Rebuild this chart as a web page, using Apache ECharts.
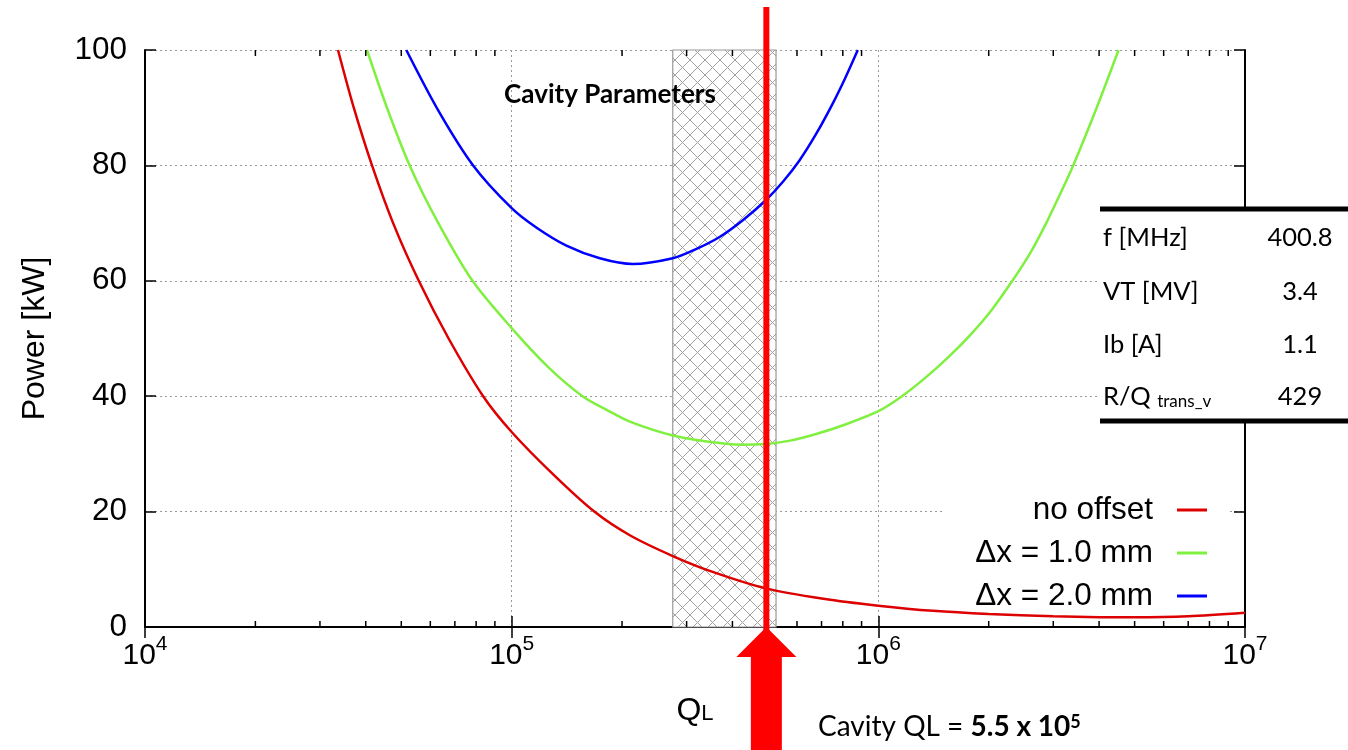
<!DOCTYPE html>
<html><head><meta charset="utf-8">
<script src="https://cdn.jsdelivr.net/npm/echarts@6/dist/echarts.min.js"></script>
<style>html,body{margin:0;padding:0;background:#fff}#c{width:1348px;height:750px}</style>
</head><body><div id="c"></div>
<script>
// ---- data ----
const seriesNames = ['no offset', 'Δx = 1.0 mm', 'Δx = 2.0 mm'];
const seriesColors = ['#dd0000', '#80f040', '#0000ff'];
const yTicks = { min: 0, max: 100, interval: 20 };
const xRange = { min: 1e4, max: 1e7 };
// [QL, Power kW]
const noOffset = [
  [3.36e4, 100], [3.71e4, 90], [4.16e4, 80], [4.75e4, 70], [5.58e4, 60], [6.73e4, 50],
  [8.36e4, 40], [1.0e5, 33.8], [1.30e5, 26.4], [1.68e5, 20], [2.10e5, 15.9], [2.75e5, 12.3],
  [3.55e5, 9.5], [4.93e5, 6.7], [7.08e5, 4.9], [1.0e6, 3.7], [1.41e6, 2.8], [2.0e6, 2.25],
  [3.0e6, 1.85], [4.0e6, 1.7], [5.0e6, 1.68], [7.0e6, 1.85], [1.0e7, 2.45]
];
const offset1mm = [
  [4.03e4, 100], [4.57e4, 90], [5.27e4, 80], [6.31e4, 70], [7.82e4, 60], [1.0e5, 51.8],
  [1.26e5, 45], [1.56e5, 40], [1.82e5, 37.6], [2.10e5, 35.6], [2.75e5, 33.2], [3.55e5, 32.0],
  [4.22e5, 31.6], [4.90e5, 31.7], [5.75e5, 32.3], [6.73e5, 33.4], [8.13e5, 35.1], [1.0e6, 37.4],
  [1.16e6, 40], [1.35e6, 43.3], [1.56e6, 46.9], [1.78e6, 50.6], [2.04e6, 55], [2.32e6, 60],
  [2.60e6, 64.9], [2.87e6, 70], [3.13e6, 75], [3.40e6, 80], [3.94e6, 90], [4.52e6, 100]
];
const offset2mm = [
  [5.16e4, 100], [6.31e4, 89.5], [7.85e4, 80], [1.0e5, 72.6], [1.17e5, 69.2], [1.41e5, 66.1],
  [1.74e5, 63.9], [2.14e5, 62.9], [2.75e5, 63.9], [3.16e5, 65.4], [3.69e5, 67.6], [4.27e5, 70.5],
  [4.94e5, 74], [5.50e5, 77.2], [6.10e5, 80.9], [6.76e5, 85.4], [7.52e5, 90.8], [8.13e5, 95.2],
  [8.79e5, 100]
];
const hatchBand = [2.75e5, 5.26e5];
const cavityQL = 4.95e5;
const tableLabels = ['f [MHz]', 'VT [MV]', 'Ib [A]', 'R/Q'];
const tableValues = ['400.8', '3.4', '1.1', '429'];

// ---- chart ----
const AX = 'Liberation Sans';
const chart = echarts.init(document.getElementById('c'), null, { renderer: 'canvas' });

function hatchPattern() {
  const c = document.createElement('canvas');
  c.width = 15; c.height = 15;
  const g = c.getContext('2d');
  g.fillStyle = '#fff'; g.fillRect(0, 0, 15, 15);
  g.strokeStyle = '#a0a0a0'; g.lineWidth = 1;
  g.beginPath();
  g.moveTo(0, 0); g.lineTo(15, 15);
  g.moveTo(15, 0); g.lineTo(0, 15);
  g.stroke();
  return c;
}

const dotted = { type: [2, 3], color: '#999', width: 1 };
const axisLineStyle = { lineStyle: { color: '#000', width: 2 } };

const xBase = {
  type: 'log', logBase: 10, min: xRange.min, max: xRange.max, splitNumber: 3,
  axisLine: axisLineStyle,
  axisTick: { inside: true, length: 11, lineStyle: { color: '#000', width: 1.5 } }
};
const yBase = {
  type: 'value', min: yTicks.min, max: yTicks.max, interval: yTicks.interval,
  axisLine: Object.assign({ show: true }, axisLineStyle),
  axisTick: { show: true, inside: true, length: 11, lineStyle: { color: '#000', width: 1.5 } }
};

const lineSeries = [noOffset, offset1mm, offset2mm].map((d, i) => ({
  name: seriesNames[i], type: 'line', data: d, showSymbol: false, smooth: 0.3, clip: true,
  lineStyle: { color: seriesColors[i], width: 2.5 }, itemStyle: { color: seriesColors[i] },
  z: 3
}));
lineSeries[0].markArea = {
  silent: true, z: 1,
  itemStyle: { color: { image: hatchPattern(), repeat: 'repeat' }, borderColor: '#999', borderWidth: 1.2 },
  data: [[{ xAxis: hatchBand[0] }, { xAxis: hatchBand[1] }]]
};

chart.setOption({
  animation: false,
  backgroundColor: '#fff',
  grid: { left: 145, right: 103, top: 50, bottom: 123 },
  xAxis: [
    Object.assign({}, xBase, {
      position: 'bottom',
      axisLabel: {
        margin: 14,
        formatter: v => '{b|10}{s|' + Math.round(Math.log10(v)) + '}',
        rich: {
          b: { fontSize: 30, fontFamily: AX, color: '#000', lineHeight: 30, verticalAlign: 'bottom' },
          s: { fontSize: 21, fontFamily: AX, color: '#000', lineHeight: 20, padding: [0, 0, 16, 0], verticalAlign: 'bottom' }
        }
      },
      splitLine: { show: true, lineStyle: dotted },
      name: '{q|Q}{l|L}', nameLocation: 'middle', nameGap: 68,
      nameTextStyle: {
        rich: {
          q: { fontSize: 32, fontFamily: AX, color: '#000', lineHeight: 30, padding: [0, 0, 8, 0], verticalAlign: 'top' },
          l: { fontSize: 22, fontFamily: AX, color: '#000', lineHeight: 20, verticalAlign: 'bottom' }
        }
      }
    }),
    Object.assign({}, xBase, { position: 'top', axisLabel: { show: false }, splitLine: { show: false } })
  ],
  yAxis: [
    Object.assign({}, yBase, {
      position: 'left',
      axisLabel: { fontSize: 31.5, fontFamily: AX, color: '#000', margin: 18 },
      splitLine: { show: true, lineStyle: dotted },
      name: 'Power [kW]', nameLocation: 'middle', nameGap: 94,
      nameTextStyle: { fontSize: 32, fontFamily: AX, color: '#000' }
    }),
    Object.assign({}, yBase, { position: 'right', axisLabel: { show: false }, splitLine: { show: false } })
  ],
  legend: {
    data: seriesNames, orient: 'vertical', align: 'right', right: 136, top: 489,
    icon: 'rect', itemWidth: 30, itemHeight: 3, itemGap: 11,
    textStyle: { fontSize: 31.5, fontFamily: AX, color: '#000', lineHeight: 31.5, padding: [0, 19, 0, 0] },
    z: 6
  },
  series: lineSeries
});

// ---- decorations positioned through the axis scales ----
const px = q => chart.convertToPixel({ xAxisIndex: 0 }, q);
const plotTop = 50, plotBottom = 627;
const g = [];
// minor log ticks (2..9 per decade) on bottom and top axes
for (let d = 4; d < 7; d++) {
  for (let k = 2; k <= 9; k++) {
    const x = px(k * Math.pow(10, d));
    g.push({ type: 'line', z: 5, silent: true, shape: { x1: x, y1: plotBottom, x2: x, y2: plotBottom - 6 }, style: { stroke: '#000', lineWidth: 1.5 } });
    g.push({ type: 'line', z: 5, silent: true, shape: { x1: x, y1: plotTop, x2: x, y2: plotTop + 6 }, style: { stroke: '#000', lineWidth: 1.5 } });
  }
}
// legend background box
g.push({ type: 'rect', z: 2, silent: true, shape: { x: 943, y: 486, width: 284, height: 122 }, style: { fill: '#fff' } });
// Cavity Parameters title
g.push({ type: 'text', z: 10, silent: true, style: { text: 'Cavity Parameters', x: 610, y: 95, align: 'center', verticalAlign: 'middle', font: 'bold 26px Lato', fill: '#000' } });
// parameter table
g.push({ type: 'rect', z: 10, silent: true, shape: { x: 1100, y: 207, width: 248, height: 216 }, style: { fill: '#fff' } });
g.push({ type: 'rect', z: 11, silent: true, shape: { x: 1100, y: 206.5, width: 248, height: 5 }, style: { fill: '#000' } });
g.push({ type: 'rect', z: 11, silent: true, shape: { x: 1100, y: 418.5, width: 248, height: 5 }, style: { fill: '#000' } });
const rowY = [238, 292, 345, 397];
tableLabels.forEach((t, i) => {
  if (i === 3) {
    g.push({ type: 'text', z: 11, silent: true, style: {
      text: '{a|R/Q }{s|trans_v}', x: 1103, y: rowY[i], verticalAlign: 'middle',
      rich: { a: { font: '25.5px Lato', fill: '#000', lineHeight: 26, verticalAlign: 'top' },
              s: { font: '17px Lato', fill: '#000', lineHeight: 18, padding: [16, 0, 0, 0], verticalAlign: 'bottom' } } } });
  } else {
    g.push({ type: 'text', z: 11, silent: true, style: { text: t, x: 1103, y: rowY[i], verticalAlign: 'middle', font: '25.5px Lato', fill: '#000' } });
  }
  g.push({ type: 'text', z: 11, silent: true, style: { text: tableValues[i], x: 1300, y: rowY[i], align: 'center', verticalAlign: 'middle', font: '25.5px Lato', fill: '#000' } });
});
// cavity QL marker: vertical line + arrow
const xc = px(cavityQL);
g.push({ type: 'line', z: 20, silent: true, shape: { x1: xc, y1: 7, x2: xc, y2: 750 }, style: { stroke: '#ff0000', lineWidth: 6 } });
g.push({ type: 'polygon', z: 20, silent: true, shape: { points: [
  [xc - 30, 657], [xc, 627], [xc + 30, 657], [xc + 15.5, 657], [xc + 15.5, 750], [xc - 15.5, 750], [xc - 15.5, 657]
] }, style: { fill: '#ff0000' } });
g.push({ type: 'text', z: 20, silent: true, style: {
  text: '{n|Cavity QL = }{b|5.5 x 10}{s|5}', x: 818, y: 727, verticalAlign: 'middle',
  rich: {
    n: { font: '28px Lato', fill: '#000', lineHeight: 28, padding: [6, 0, 0, 0], verticalAlign: 'bottom' },
    b: { font: 'bold 28px Lato', fill: '#000', lineHeight: 28, padding: [6, 0, 0, 0], verticalAlign: 'bottom' },
    s: { font: 'bold 18px Lato', fill: '#000', lineHeight: 18, verticalAlign: 'top' }
  } } });
chart.setOption({ graphic: g });
</script></body></html>
